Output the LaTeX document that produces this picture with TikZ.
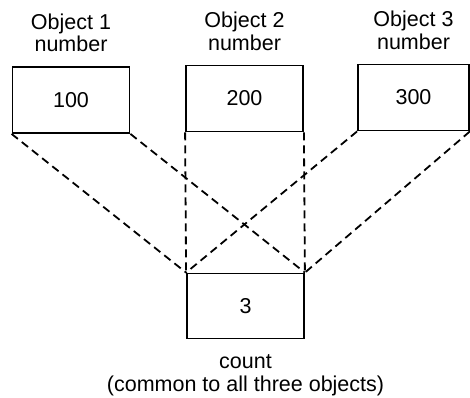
\documentclass[tikz,border=0pt]{standalone}
\usepackage{fontspec}
\setmainfont{Liberation Sans}
\usetikzlibrary{positioning}

\tikzset{
  cell/.style={draw, line width=1.8pt, minimum width=117pt, minimum height=66pt, inner sep=0pt},
  caption/.style={align=center, inner sep=0pt},
  link/.style={line width=1.8pt, dash pattern=on 8pt off 5pt}
}

\begin{document}
\begin{tikzpicture}[x=1pt, y=-1pt, font=\fontsize{21.5}{22.5}\selectfont]
\useasboundingbox (0,0) rectangle (470,397);
\node[cell] (obj1) at (71,100) {100};
\node[cell] (obj2) at (244.5,98.5) {200};
\node[cell, minimum width=111pt] (obj3) at (413.5,97.5) {300};
\node[cell, minimum height=65pt] (cnt) at (245.5,306) {3};
\node[caption, above=14pt of obj1] (lab1) {Object 1\\number};
\node[caption, above=14pt of obj2] (lab2) {Object 2\\number};
\node[caption, above=14pt of obj3] (lab3) {Object 3\\number};
\node[caption, below=15pt of cnt] (labc) {count\\(common to all three objects)};
% every number box is tied to the shared count
\draw[link] (obj1.south west) -- (cnt.north west);
\draw[link] (obj1.south east) -- (cnt.north east);
\draw[link] (obj2.south west) -- (cnt.north west);
\draw[link] (obj2.south east) -- (cnt.north east);
\draw[link] (obj3.south west) -- (cnt.north west);
\draw[link] (obj3.south east) -- (cnt.north east);
\end{tikzpicture}
\end{document}
